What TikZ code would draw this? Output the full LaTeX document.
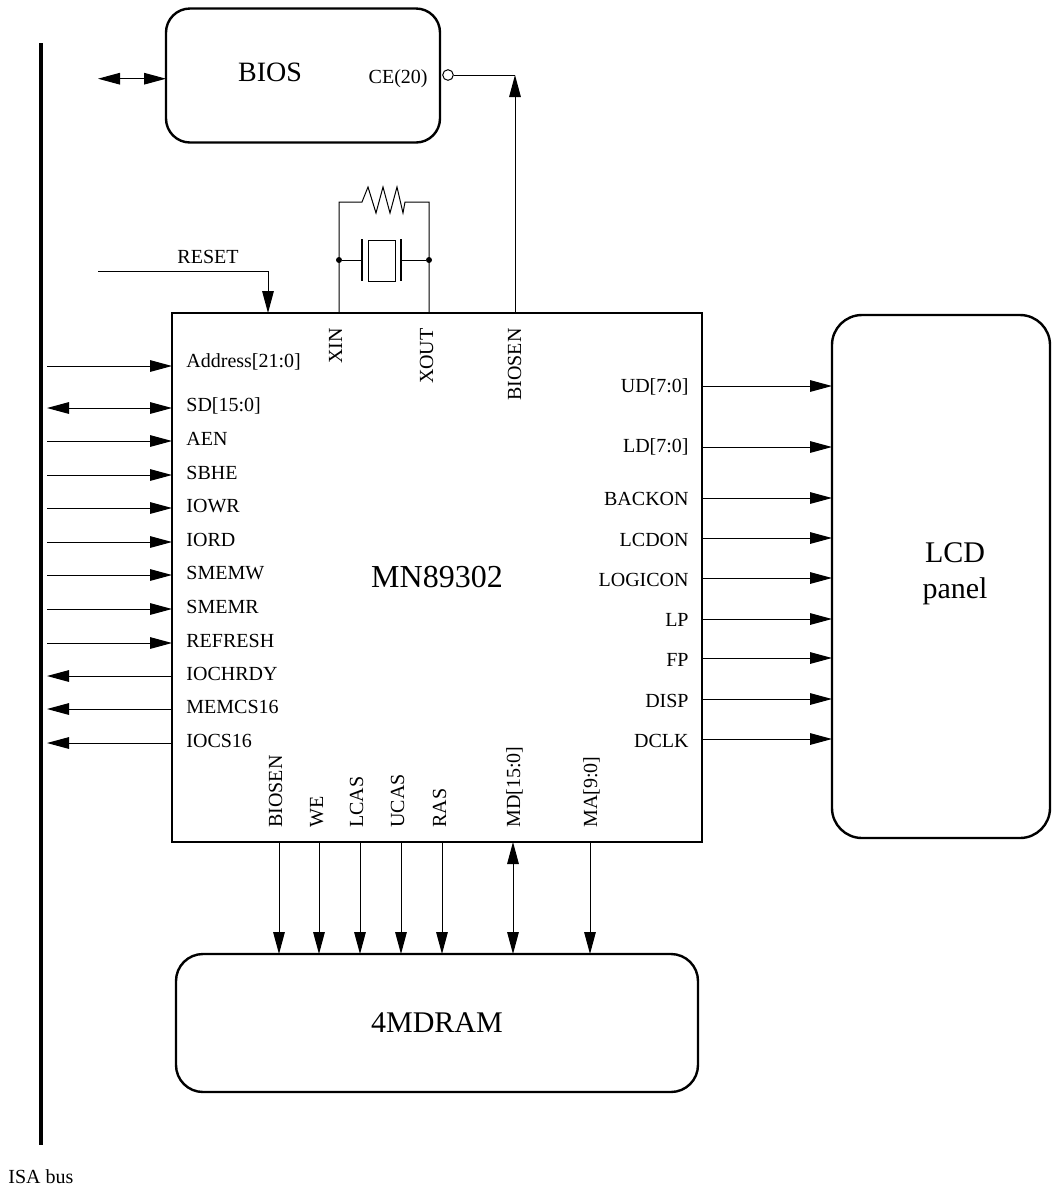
\documentclass[tikz,border=0pt]{standalone}
\usepackage{fontspec}
\setmainfont{Liberation Serif}
\usetikzlibrary{arrows.meta,fit}
\begin{document}
\begin{tikzpicture}[x=0.5pt,y=-0.5pt,
  wire/.style={line width=0.5pt},
  box/.style={draw, line width=1.2pt, inner sep=0pt, outer sep=0pt},
  rbox/.style={box, rounded corners=#1},
  arr/.style={wire, -{Triangle[length=11pt,width=5.8pt]}},
  oarr/.style={wire, {Triangle[length=11pt,width=5.8pt]}-},
  biarr/.style={wire, {Triangle[length=11pt,width=5.8pt]}-{Triangle[length=11pt,width=5.8pt]}},
  lbl/.style={font=\fontsize{10}{12}\selectfont, inner sep=0pt},
  big/.style={font=\fontsize{#1}{#1}\selectfont, inner sep=0pt},
  dot/.style={circle, fill, inner sep=0pt, minimum size=3pt}
]
\useasboundingbox (0,0) rectangle (1052,1191);

% boxes
\node[box, line width=1pt, fit={(172,313) (702,842)}] (chip) {};
\node[rbox=12pt, fit={(166,8.5) (440,142.5)}] (bios) {};
\node[rbox=15pt, fit={(832,315) (1050,838)}] (lcd) {};
\node[rbox=13.5pt, fit={(176,954) (698,1092)}] (dram) {};
\node[fill, inner sep=0pt, outer sep=0pt, fit={(38.5,42.5) (42.5,1145)}] (isa) {};

% main texts
\node[big=14, anchor=base] (biostxt) at (270,81) {BIOS};
\node[lbl, anchor=base east] (cetxt) at (428,83) {CE(20)};
\node[big=16] (chiptxt) at (437,577) {MN89302};
\node[big=15, align=center] (lcdtxt) at (955,574) {LCD\\[3pt]panel};
\node[big=15] (dramtxt) at (437,1023) {4MDRAM};
\node[lbl, anchor=base west] (isatxt) at (8,1183) {ISA bus};
\node[lbl, anchor=base] (resettxt) at (208,263) {RESET};

% BIOS connections
\coordinate (biosl) at (98,78.7);
\draw[biarr] (biosl) -- (bios.west |- biosl);
\node[draw, circle, wire, fill=white, inner sep=0pt, minimum size=5.3pt] (ceo) at (448,75) {};
\coordinate (cecorner) at (515,75);
\draw[wire] (ceo.east) -- (cecorner);
\draw[arr] (chip.north -| cecorner) -- (cecorner);

% RESET
\coordinate (rs) at (98,271);
\coordinate (rc) at (268,271);
\draw[arr] (rs) -- (rc) -- (rc |- chip.north);

% crystal circuit
\coordinate (xa) at (339,202);
\coordinate (xb) at (429,202);
\draw[wire] (chip.north -| xa) -- (xa) -- (362,202) -- (368,187) -- (376,213) -- (383,187)
  -- (390,213) -- (397,187) -- (403,213) -- (405,202) -- (xb) -- (chip.north -| xb);
\node[dot] (d1) at (339,260) {};
\node[dot] (d2) at (429,260) {};
\draw[wire] (d1) -- (362,260);
\draw[wire] (401,260) -- (d2);
\draw[line width=0.8pt] (362,239) -- (362,281);
\draw[line width=0.8pt] (401,239) -- (401,281);
\draw[wire] (368,240) rectangle (395,281);

% top labels
\foreach \x/\o/\t in {339/3/XIN, 429/4/XOUT, 515/6/BIOSEN}{
  \node[lbl, rotate=90, anchor=base east] at ({\x+\o},328) {\t};
}

% left signals
\foreach \y/\b/\t/\k in {366/367/Address[21:0]/arr, 408/411/SD[15:0]/biarr, 441/445/AEN/arr,
  475/479/SBHE/arr, 508/512/IOWR/arr, 542/546/IORD/arr, 575/579/SMEMW/arr, 609/613/SMEMR/arr,
  643/647/REFRESH/arr, 676/680/IOCHRDY/oarr, 709/713/MEMCS16/oarr, 743/747/IOCS16/oarr}{
  \coordinate (L\y) at (47,\y);
  \draw[\k] (L\y) -- (chip.west |- L\y);
  \node[lbl, anchor=base west] at (186,\b) {\t};
}

% right signals
\foreach \y/\b/\t in {386/392/UD[7:0], 447/452/LD[7:0], 498/505/BACKON, 538/546/LCDON,
  578/586/LOGICON, 619/626/LP, 658/666/FP, 699/707/DISP, 739/747/DCLK}{
  \coordinate (R\y) at (702,\y);
  \draw[arr] (R\y) -- (lcd.west |- R\y);
  \node[lbl, anchor=base east] at (689,\b) {\t};
}

% bottom signals
\foreach \x/\o/\t/\k in {279/3/BIOSEN/arr, 319/4/WE/arr, 360/3/LCAS/arr, 401/3/UCAS/arr,
  442/4/RAS/arr, 513/7/MD[15:0]/biarr, 590/7/MA[9:0]/arr}{
  \coordinate (B\x) at (\x,842);
  \draw[\k] (chip.south -| B\x) -- (dram.north -| B\x);
  \node[lbl, rotate=90, anchor=base west] at ({\x+\o},828) {\t};
}
\end{tikzpicture}
\end{document}
